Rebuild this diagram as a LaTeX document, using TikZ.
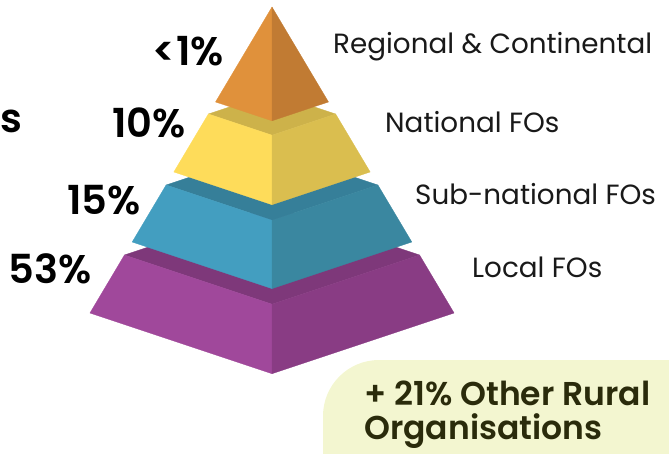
\documentclass[tikz,border=0pt]{standalone}
\usepackage{fontspec}
\setmainfont{Poppins}
\newfontfamily\semibold{Poppins SemiBold}

\definecolor{orangeleft}{HTML}{E0913B}
\definecolor{orangeright}{HTML}{C17B33}
\definecolor{yellowtop}{HTML}{CDB24A}
\definecolor{yellowleft}{HTML}{FEDC5A}
\definecolor{yellowright}{HTML}{DABE4F}
\definecolor{bluetop}{HTML}{367F99}
\definecolor{blueleft}{HTML}{439EC0}
\definecolor{blueright}{HTML}{3A87A0}
\definecolor{purpletop}{HTML}{7E387A}
\definecolor{purpleleft}{HTML}{A0489B}
\definecolor{purpleright}{HTML}{893C84}
\definecolor{pillfill}{HTML}{F3F6D0}
\definecolor{pillink}{HTML}{2A2B0B}

\tikzset{
  face/.style={fill=#1, draw=#1, line width=0.3pt, line join=round},
  share/.style={anchor=base east, inner sep=0pt, font=\fontsize{40}{42}\semibold},
  tierlabel/.style={anchor=base west, inner sep=0pt, text=black!90, font=\fontsize{27.8}{32}\selectfont},
  othertext/.style={anchor=base west, inner sep=0pt, text=pillink, font=\fontsize{33}{36}\semibold}
}

\begin{document}
\begin{tikzpicture}[x=1pt,y=-1pt]

  \useasboundingbox (0,0) rectangle (669,453);
  \clip (0,0) rectangle (669,453);

  % tiers, bottom first
  \foreach \yt/\yb/\ctop/\cleft/\cright in {255/313/purpletop/purpleleft/purpleright,
      185/242/bluetop/blueleft/blueright,
      114/172/yellowtop/yellowleft/yellowright}{
    \pgfmathsetmacro\wt{0.595*(\yt-7)}
    \pgfmathsetmacro\wb{0.595*(\yb-7)}
    \path[face=\ctop] (272-\wt,\yt) -- (272,\yt+\wt/3) -- (272+\wt,\yt) -- (272,\yt-\wt/3) -- cycle;
    \path[face=\cleft] (272-\wt,\yt) -- (272,\yt+\wt/3) -- (272,\yb+\wb/3) -- (272-\wb,\yb) -- cycle;
    \path[face=\cright] (272,\yt+\wt/3) -- (272+\wt,\yt) -- (272+\wb,\yb) -- (272,\yb+\wb/3) -- cycle;
  }

  % top
  \coordinate (apex) at (272,7);
  \path[face=orangeleft] (apex) -- (215.5,102) -- (272,120.8) -- cycle;
  \path[face=orangeright] (apex) -- (272,120.8) -- (328.5,102) -- cycle;

  % shares
  \node[share] (cut)      at (23,132)  {s};
  \node[share] (regional) at (224,65)  {<1\%};
  \node[share] (national) at (186,137) {10\%};
  \node[share] (subnat)   at (141,214) {15\%};
  \node[share] (local)    at (92,283)  {53\%};

  % names
  \node[tierlabel] (regionalname) at (333,53)  {Regional \& Continental};
  \node[tierlabel] (nationalname) at (385,132) {National FOs};
  \node[tierlabel] (subnatname)   at (415,204) {Sub-national FOs};
  \node[tierlabel] (localname)    at (472,277) {Local FOs};

  % other organisations
  \fill[pillfill, rounded corners=56pt] (323,360) rectangle (760,560);
  \node[othertext] (otherrural) at (364,405) {+ 21\% Other Rural};
  \node[othertext] (otherorgs)  at (364,439) {Organisations};

\end{tikzpicture}
\end{document}
